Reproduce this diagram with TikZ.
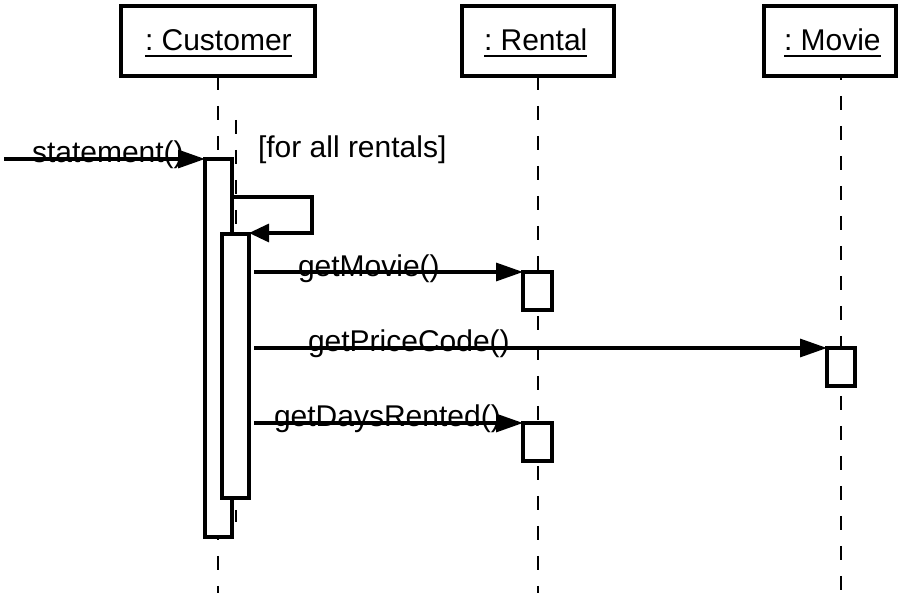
\documentclass[tikz,border=0pt]{standalone}
\usepackage{fontspec}
\setmainfont{Liberation Sans}
\usetikzlibrary{arrows.meta}
\frenchspacing
\begin{document}
\begin{tikzpicture}[x=1pt,y=-1pt,
  hdr/.style={draw,line width=4pt,minimum width=#1,minimum height=70pt,inner sep=0pt,outer sep=0pt},
  actbox/.style={draw,fill=white,line width=3.5pt,inner sep=0pt,outer sep=0pt,anchor=north west},
  txt/.style={inner sep=0pt,outer sep=0pt,font=\fontsize{30}{36}\selectfont\frenchspacing},
  uline/.style={line width=1.8pt},
  life/.style={line width=2pt,dash pattern=on 14pt off 16pt},
  msg/.style={line width=3.2pt,line join=miter,-{Triangle[length=27pt,width=18pt]}},
  selfmsg/.style={line width=3.2pt,line join=miter,-{Triangle[length=20pt,width=18pt]}},
]
\useasboundingbox (0,0) rectangle (898,593);

% header boxes
\node[hdr=194pt] (cust) at (218,41) {};
\node[hdr=152pt] (rent) at (538,41) {};
\node[hdr=132pt] (movie) at (830,41) {};
\node[txt,anchor=base west] (custlbl) at (145,51) {: Customer};
\node[txt,anchor=base west] (rentlbl) at (484,51) {: Rental};
\node[txt,anchor=base west] (movielbl) at (784,51) {: Movie};
\draw[uline] ([yshift=-5pt]custlbl.south west) -- ([yshift=-5pt]custlbl.south east);
\draw[uline] ([yshift=-5pt]rentlbl.south west) -- ([yshift=-5pt]rentlbl.south east);
\draw[uline] ([yshift=-5pt]movielbl.south west) -- ([yshift=-5pt]movielbl.south east);

% lifelines
\coordinate (custend) at (218,593);
\coordinate (rentend) at (538,593);
\coordinate (movieend) at (841,593);
\draw[life] (cust.south) -- (custend);
\draw[life] (rent.south) -- (rentend);
\draw[life,dash phase=10pt] (movie.south -| movieend) -- (movieend);
\coordinate (loopltop) at (236,120);
\coordinate (looplbot) at (236,522);
\draw[life] (loopltop) -- (looplbot);

% activation boxes
\node[actbox,minimum width=27pt,minimum height=378pt] (outer) at (205,159) {};
\node[actbox,minimum width=27pt,minimum height=264pt] (inner) at (222,234) {};
\node[actbox,minimum width=29pt,minimum height=38pt] (r1) at (523,272) {};
\node[actbox,minimum width=28pt,minimum height=38pt] (m1) at (827,348) {};
\node[actbox,minimum width=29pt,minimum height=38pt] (r2) at (523,423) {};

% messages
\coordinate (start) at (4,159);
\draw[msg] (start) -- (outer.north west);
\node[txt,anchor=base west] (stmtlbl) at (32,163) {statement()};

\node[txt,anchor=base west] (guard) at (258,158) {[for all rentals]};
\coordinate (loopA) at (312,197);
\coordinate (loopB) at (312,233);
\draw[selfmsg] (outer.east |- loopA) -- (loopA) -- (loopB) -- (inner.east |- loopB);

\draw[msg] ([xshift=5pt]inner.east |- r1.north west) -- (r1.north west);
\node[txt,anchor=base west] (gm) at (298,277) {getMovie()};

\draw[msg] ([xshift=5pt]inner.east |- m1.north west) -- (m1.north west);
\node[txt,anchor=base west] (gpc) at (308,352) {getPriceCode()};

\draw[msg] ([xshift=5pt]inner.east |- r2.north west) -- (r2.north west);
\node[txt,anchor=base west] (gdr) at (274,427) {getDaysRented()};
\end{tikzpicture}
\end{document}
